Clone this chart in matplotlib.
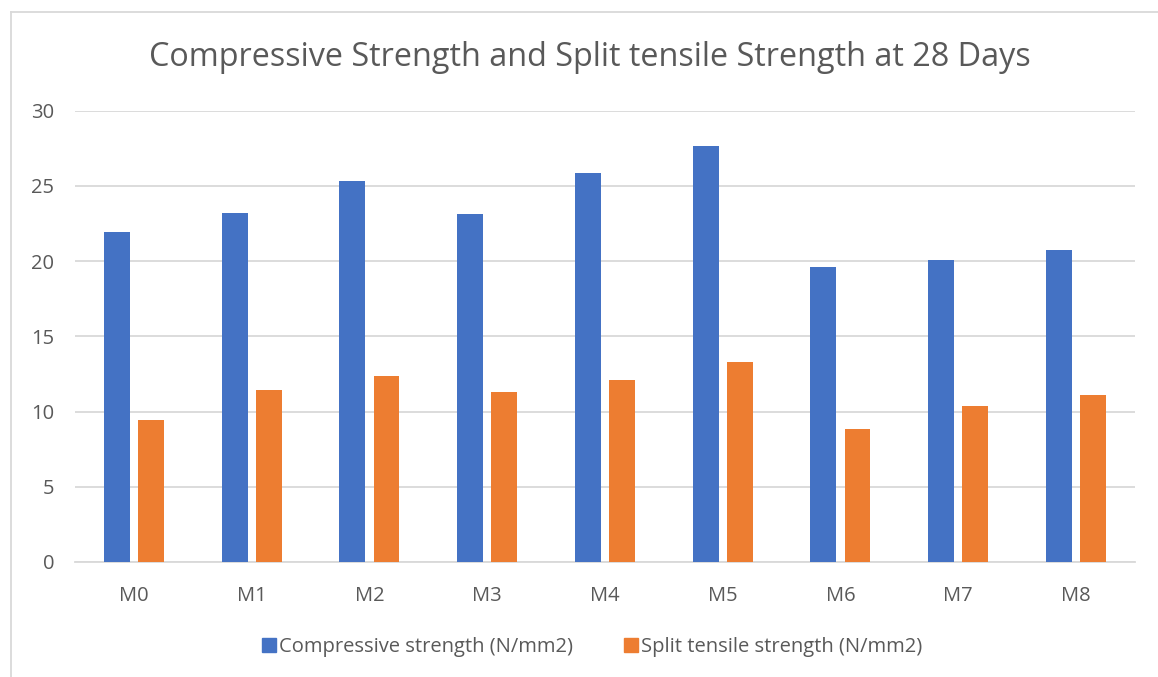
import matplotlib
matplotlib.use("Agg")
import matplotlib.pyplot as plt
from matplotlib.lines import Line2D
import numpy as np

plt.rcParams['font.family'] = ['Open Sans', 'DejaVu Sans']

mixes = ["M0", "M1", "M2", "M3", "M4", "M5", "M6", "M7", "M8"]
compressive = [21.94, 23.22, 25.31, 23.12, 25.86, 27.63, 19.64, 20.06, 20.77]
split_tensile = [9.43, 11.46, 12.37, 11.29, 12.11, 13.30, 8.85, 10.36, 11.09]
y_ticks = [0, 5, 10, 15, 20, 25, 30]

blue = "#4472C4"
orange = "#ED7D31"
text_gray = "#595959"
grid_gray = "#D9D9D9"

fig = plt.figure(figsize=(11.58, 6.77), dpi=100)
ax = fig.add_axes([0.0648, 0.1699, 0.9152, 0.6666])

x = np.arange(len(mixes))
width = 0.22
offset = 0.145
ax.bar(x - offset, compressive, width, color=blue, label="Compressive strength (N/mm2)", zorder=3)
ax.bar(x + offset, split_tensile, width, color=orange, label="Split tensile strength (N/mm2)", zorder=3)

ax.set_xlim(-0.5, len(mixes) - 0.5)
ax.set_ylim(0, 30)
ax.set_yticks(y_ticks)
ax.set_xticks(x)
ax.set_xticklabels(mixes)
ax.yaxis.grid(True, color=grid_gray, linewidth=1.3, zorder=0)
ax.tick_params(axis='both', length=0, labelsize=14.5, colors=text_gray)
ax.tick_params(axis='x', pad=17)
ax.tick_params(axis='y', pad=15)
for side in ["top", "right", "left"]:
    ax.spines[side].set_visible(False)
ax.spines["bottom"].set_color(grid_gray)
ax.spines["bottom"].set_linewidth(1.3)

fig.text(0.509, 0.915, "Compressive Strength and Split tensile Strength at 28 Days",
         ha="center", va="center", fontsize=23.3, color=text_gray)

handles = [Line2D([], [], marker="s", linestyle="none", markersize=10, color=blue),
           Line2D([], [], marker="s", linestyle="none", markersize=10, color=orange)]
fig.legend(handles, ["Compressive strength (N/mm2)", "Split tensile strength (N/mm2)"],
           loc="center", bbox_to_anchor=(0.511, 0.044), ncol=2, frameon=False,
           fontsize=14.5, labelcolor=text_gray, handletextpad=0.1, columnspacing=2.45,
           handlelength=0.8)

# chart area border
fig.add_artist(Line2D([11 / 1158, 1.0], [1 - 12 / 677, 1 - 12 / 677],
                      transform=fig.transFigure, color=grid_gray, linewidth=1.3))
fig.add_artist(Line2D([11 / 1158, 11 / 1158], [0.0, 1 - 12 / 677],
                      transform=fig.transFigure, color=grid_gray, linewidth=1.3))

fig.savefig("out.png", dpi=100)
